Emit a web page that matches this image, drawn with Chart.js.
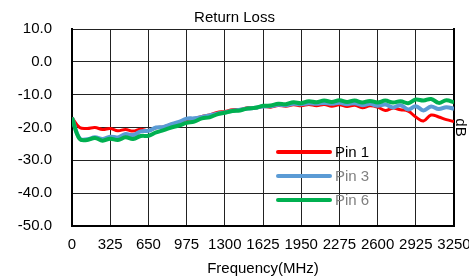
<!DOCTYPE html>
<html>
<head>
<meta charset="utf-8">
<script src="https://cdn.jsdelivr.net/npm/chart.js@4"></script>
<style>
  body { margin: 0; background: #fff; }
  #wrap { width: 469px; height: 280px; }
</style>
</head>
<body>
<div id="wrap"><canvas id="myChart" width="469" height="280"></canvas></div>
<script>
// frequency points (MHz)
var freq = [0, 65, 130, 195, 260, 325, 390, 455, 520, 585, 650, 715, 780, 845, 910, 975,
  1040, 1105, 1170, 1235, 1300, 1365, 1430, 1495, 1560, 1625, 1690, 1755, 1820, 1885, 1950,
  2015, 2080, 2145, 2210, 2275, 2340, 2405, 2470, 2535, 2600, 2665, 2730, 2795, 2860, 2925,
  2990, 3055, 3120, 3185, 3250];

var pin1 = [-17.0, -20.0, -20.3, -20.0, -20.6, -20.3, -21.0, -20.6, -21.1, -20.5, -20.9, -20.1,
  -19.8, -19.0, -18.4, -17.6, -17.3, -16.6, -16.2, -15.4, -15.1, -14.6, -14.5, -14.0, -14.1,
  -13.6, -13.8, -13.3, -13.5, -13.1, -13.4, -13.0, -13.4, -13.0, -13.5, -13.1, -13.6, -13.2,
  -14.0, -13.4, -13.8, -14.8, -14.1, -14.6, -15.0, -16.8, -18.0, -16.2, -16.8, -17.6, -18.2];

var pin3 = [-17.0, -23.3, -23.6, -23.0, -23.5, -22.8, -23.0, -22.0, -22.3, -21.2, -21.0, -20.0,
  -19.8, -19.0, -18.3, -17.3, -17.2, -16.8, -16.3, -15.8, -15.4, -14.9, -14.6, -14.2, -14.0,
  -13.6, -13.5, -13.1, -13.2, -12.8, -12.9, -12.6, -12.8, -12.5, -12.8, -12.5, -12.9, -12.6,
  -13.2, -12.8, -13.4, -13.0, -13.9, -13.2, -14.5, -13.5, -14.8, -13.6, -14.4, -13.8, -14.3];

var pin6 = [-17.0, -23.5, -23.8, -23.2, -24.0, -23.4, -23.8, -23.0, -23.5, -22.6, -22.5, -21.5,
  -20.8, -20.0, -19.4, -18.6, -18.2, -17.2, -16.9, -16.0, -15.5, -15.0, -14.8, -14.2, -14.0,
  -13.4, -13.3, -12.8, -12.9, -12.3, -12.6, -12.0, -12.3, -11.8, -12.2, -11.7, -12.2, -11.8,
  -12.4, -11.9, -12.4, -11.8, -12.4, -12.0, -12.6, -11.5, -11.8, -11.3, -12.5, -11.7, -12.3];

var seriesNames = ["Pin 1", "Pin 3", "Pin 6"];
var seriesColors = ["#ff0000", "#5b9bd5", "#00b050"];
var legendTextColors = ["#000000", "#808080", "#808080"];

function pts(ys) {
  return freq.map(function (f, i) { return { x: f, y: ys[i] }; });
}

// legend drawn inside the plot, like the original
var insideLegend = {
  id: 'insideLegend',
  afterDatasetsDraw: function (chart) {
    var ctx = chart.ctx;
    var rows = [152, 176, 200];
    ctx.save();
    ctx.font = '15px "Liberation Sans", Arial, sans-serif';
    ctx.textBaseline = 'middle';
    for (var i = 0; i < seriesNames.length; i++) {
      ctx.strokeStyle = seriesColors[i];
      ctx.lineWidth = 4;
      ctx.lineCap = 'round';
      ctx.beginPath();
      ctx.moveTo(278, rows[i]);
      ctx.lineTo(330, rows[i]);
      ctx.stroke();
      ctx.fillStyle = legendTextColors[i];
      ctx.fillText(seriesNames[i], 335, rows[i] + 1);
    }
    ctx.restore();
  }
};

var font15 = { family: '"Liberation Sans", Arial, sans-serif', size: 15, weight: 'normal' };

new Chart(document.getElementById('myChart').getContext('2d'), {
  type: 'line',
  data: {
    datasets: [
      { label: seriesNames[0], data: pts(pin1), borderColor: seriesColors[0], borderWidth: 3, order: 3 },
      { label: seriesNames[1], data: pts(pin3), borderColor: seriesColors[1], borderWidth: 4, order: 2 },
      { label: seriesNames[2], data: pts(pin6), borderColor: seriesColors[2], borderWidth: 4, order: 1 }
    ]
  },
  options: {
    responsive: false,
    animation: false,
    layout: { padding: 0 },
    elements: { point: { radius: 0 }, line: { tension: 0.4, fill: false } },
    plugins: {
      legend: { display: false },
      tooltip: { enabled: false },
      title: {
        display: true,
        text: 'Return Loss',
        color: '#000',
        font: font15,
        padding: { top: 9, bottom: 2 }
      }
    },
    scales: {
      x: {
        type: 'linear',
        min: 0, max: 3250,
        afterFit: function (s) { s.height = 54; s.paddingLeft = 0; s.paddingRight = 0; },
        ticks: { stepSize: 325, color: '#000', font: font15, padding: 10, maxRotation: 0, autoSkip: false,
          callback: function (v) { return String(v); } },
        grid: { color: '#222', lineWidth: 1, drawTicks: false },
        border: { color: '#000', width: 2 },
        title: { display: true, text: 'Frequency(MHz)', color: '#000', font: font15, padding: { top: 0, bottom: 2 } }
      },
      y: {
        min: -50, max: 10,
        afterFit: function (s) { s.width = 72; s.paddingTop = 0; s.paddingBottom = 0; },
        ticks: { stepSize: 10, color: '#000', font: font15, padding: 20,
          callback: function (v) { return v.toFixed(1); } },
        grid: { color: '#222', lineWidth: 1, drawTicks: false },
        border: { color: '#000', width: 2 }
      },
      y2: {
        position: 'right',
        display: true,
        min: -50, max: 10,
        afterFit: function (s) { s.width = 15; s.paddingTop = 0; s.paddingBottom = 0; },
        ticks: { display: false },
        grid: { display: false, drawTicks: false },
        border: { display: true, color: '#000', width: 2 },
        title: { display: true, text: 'dB', color: '#000', font: font15, padding: 0 }
      }
    }
  },
  plugins: [insideLegend]
});
</script>
</body>
</html>
